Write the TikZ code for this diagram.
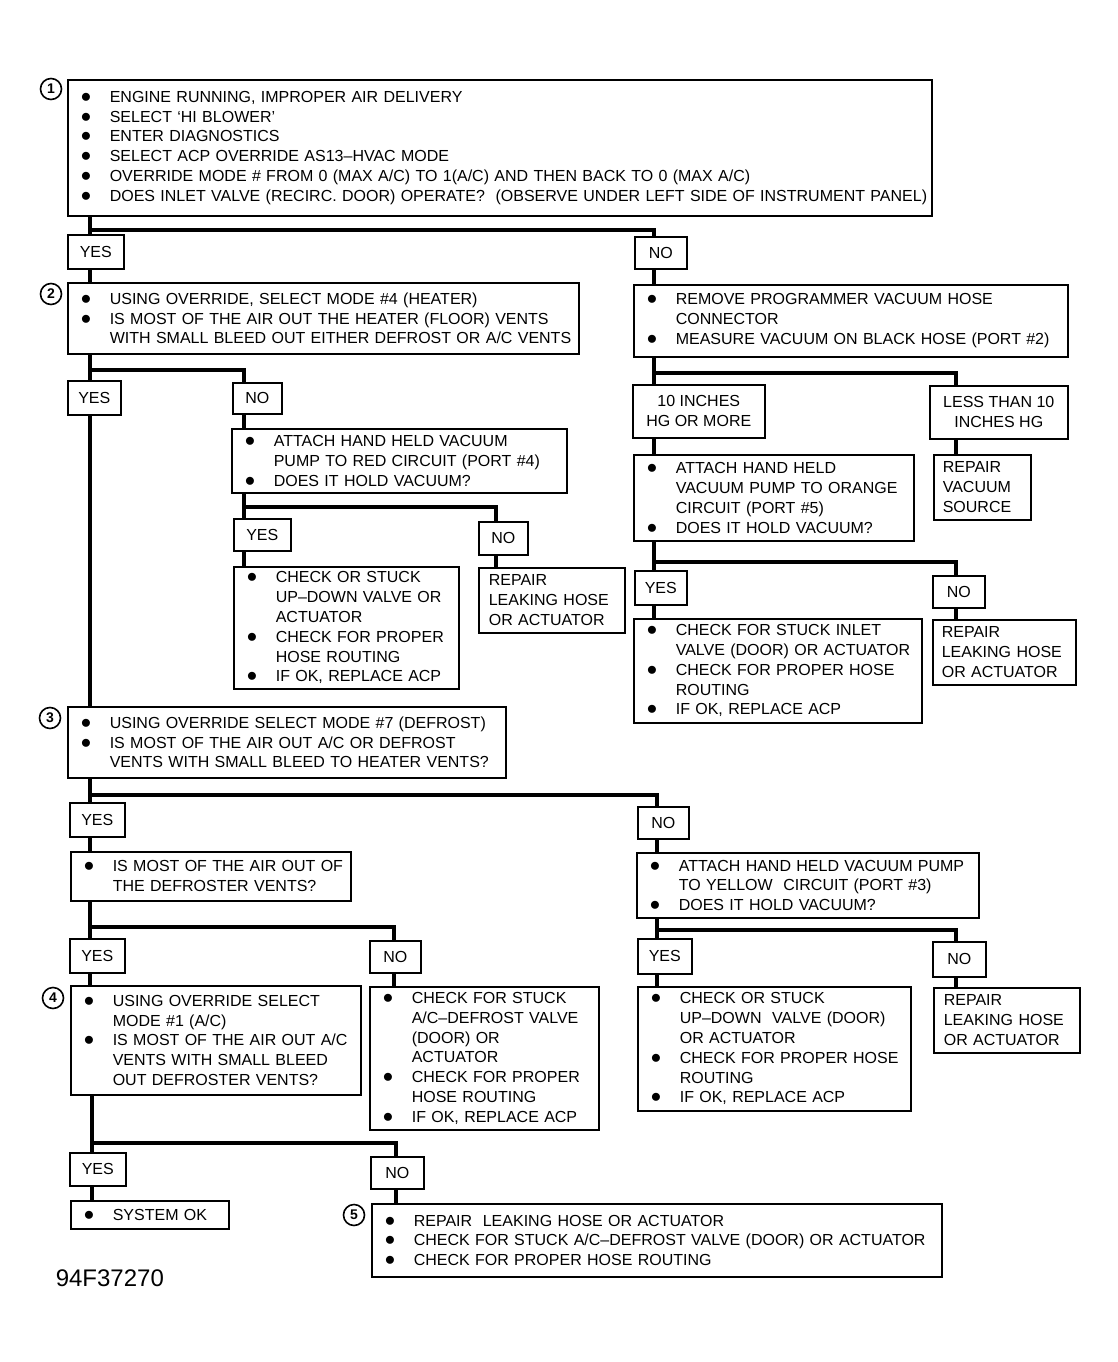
\documentclass[tikz,border=0pt]{standalone}
\usepackage{fontspec}
\setmainfont{Liberation Sans}
\newcommand{\bitem}[1]{\makebox[29pt][l]{\fontsize{21}{19.8}\selectfont$\bullet$}\mbox{#1}}
\newcommand{\bcont}[1]{\hspace*{29pt}\mbox{#1}}
\newcommand{\bline}[1]{\mbox{#1}}

\begin{document}
\begin{tikzpicture}[x=1pt,y=-1pt,line width=1.6pt]
    \tikzstyle{panel}=[draw,anchor=north west,inner xsep=13pt,inner ysep=0pt,align=left,font=\fontsize{16}{19.8}\selectfont]
    \tikzstyle{answer}=[draw,anchor=north west,inner sep=0pt,font=\fontsize{16}{19.8}\selectfont]
    \tikzstyle{stepno}=[circle,draw,line width=1.6pt,inner sep=0pt,minimum size=21pt,font=\fontsize{14}{14}\selectfont\bfseries]
    \tikzstyle{link}=[line width=3.6pt]

    \useasboundingbox (0,0) rectangle (1117,1362);

    % step 1
    \node[panel,text width=838pt,minimum height=136pt] (S1) at (67,79) {
      \bitem{ENGINE RUNNING, IMPROPER AIR DELIVERY}\\
      \bitem{SELECT `HI BLOWER'}\\
      \bitem{ENTER DIAGNOSTICS}\\
      \bitem{SELECT ACP OVERRIDE AS13--HVAC MODE}\\
      \bitem{OVERRIDE MODE \# FROM 0 (MAX A/C) TO 1(A/C) AND THEN BACK TO 0 (MAX A/C)}\\
      \bitem{DOES INLET VALVE (RECIRC. DOOR) OPERATE?\ \ (OBSERVE UNDER LEFT SIDE OF INSTRUMENT PANEL)}};
    \node[stepno] (C1) at (51,89) {1};
    \node[answer,minimum width=56pt,minimum height=34pt] (Y1) at (67,234) {YES};
    \node[answer,minimum width=52pt,minimum height=32pt] (N1) at (634,236) {NO};

    % step 2
    \node[panel,text width=485pt,minimum height=71pt] (S2) at (67,282) {
      \bitem{USING OVERRIDE, SELECT MODE \#4 (HEATER)}\\
      \bitem{IS MOST OF THE AIR OUT THE HEATER (FLOOR) VENTS}\\
      \bcont{WITH SMALL BLEED OUT EITHER DEFROST OR A/C VENTS}};
    \node[stepno] (C2) at (51,294) {2};
    \node[answer,minimum width=53pt,minimum height=34pt] (Y2) at (67,380) {YES};
    \node[answer,minimum width=49pt,minimum height=31pt] (N2) at (232,382) {NO};

    % red circuit
    \node[panel,text width=309pt,minimum height=64pt] (R1) at (231,428) {
      \bitem{ATTACH HAND HELD VACUUM}\\
      \bcont{PUMP TO RED CIRCUIT (PORT \#4)}\\
      \bitem{DOES IT HOLD VACUUM?}};
    \node[answer,minimum width=57pt,minimum height=32pt] (Y3) at (233,518) {YES};
    \node[answer,minimum width=49pt,minimum height=33pt] (N3) at (478,521) {NO};
    \node[panel,text width=199pt,minimum height=122pt] (R2) at (233,566) {
      \bitem{CHECK OR STUCK}\\
      \bcont{UP--DOWN VALVE OR}\\
      \bcont{ACTUATOR}\\
      \bitem{CHECK FOR PROPER}\\
      \bcont{HOSE ROUTING}\\
      \bitem{IF OK, REPLACE ACP}};
    \node[panel,inner xsep=10pt,text width=126pt,minimum height=65pt] (R3) at (478,567) {
      \bline{REPAIR}\\\bline{LEAKING HOSE}\\\bline{OR ACTUATOR}};

    % programmer vacuum
    \node[panel,text width=408pt,minimum height=72pt] (V1) at (633,284) {
      \bitem{REMOVE PROGRAMMER VACUUM HOSE}\\
      \bcont{CONNECTOR}\\
      \bitem{MEASURE VACUUM ON BLACK HOSE (PORT \#2)}};
    \node[answer,minimum width=132pt,minimum height=53pt,align=center] (H1) at (632,384) {10 INCHES\\HG OR MORE};
    \node[answer,minimum width=138pt,minimum height=53pt,align=center] (H2) at (929,385) {LESS THAN 10\\INCHES HG};
    \node[panel,text width=254pt,minimum height=86pt] (V2) at (633,454) {
      \bitem{ATTACH HAND HELD}\\
      \bcont{VACUUM PUMP TO ORANGE}\\
      \bcont{CIRCUIT (PORT \#5)}\\
      \bitem{DOES IT HOLD VACUUM?}};
    \node[panel,inner xsep=9pt,text width=79pt,minimum height=65pt] (VS) at (933,454) {
      \bline{REPAIR}\\\bline{VACUUM}\\\bline{SOURCE}};
    \node[answer,minimum width=52pt,minimum height=34pt] (Y4) at (634,570) {YES};
    \node[answer,minimum width=52pt,minimum height=32pt] (N4) at (932,575) {NO};
    \node[panel,text width=262pt,minimum height=104pt] (V3) at (633,618) {
      \bitem{CHECK FOR STUCK INLET}\\
      \bcont{VALVE (DOOR) OR ACTUATOR}\\
      \bitem{CHECK FOR PROPER HOSE}\\
      \bcont{ROUTING}\\
      \bitem{IF OK, REPLACE ACP}};
    \node[panel,inner xsep=9pt,text width=125pt,minimum height=65pt] (V4) at (932,619) {
      \bline{REPAIR}\\\bline{LEAKING HOSE}\\\bline{OR ACTUATOR}};

    % step 3
    \node[panel,text width=412pt,minimum height=71pt] (S3) at (67,706) {
      \bitem{USING OVERRIDE SELECT MODE \#7 (DEFROST)}\\
      \bitem{IS MOST OF THE AIR OUT A/C OR DEFROST}\\
      \bcont{VENTS WITH SMALL BLEED TO HEATER VENTS?}};
    \node[stepno] (C3) at (50,718) {3};
    \node[answer,minimum width=55pt,minimum height=34pt] (Y5) at (69,802) {YES};
    \node[answer,minimum width=51pt,minimum height=32pt] (N5) at (637,806) {NO};
    \node[panel,text width=254pt,minimum height=49pt] (D1) at (70,851) {
      \bitem{IS MOST OF THE AIR OUT OF}\\
      \bcont{THE DEFROSTER VENTS?}};
    \node[answer,minimum width=55pt,minimum height=34pt] (Y6) at (69,938) {YES};
    \node[answer,minimum width=51pt,minimum height=32pt] (N6) at (369,940) {NO};
    \node[panel,text width=203pt,minimum height=143pt] (D2) at (369,986) {
      \bitem{CHECK FOR STUCK}\\
      \bcont{A/C--DEFROST VALVE}\\
      \bcont{(DOOR) OR}\\
      \bcont{ACTUATOR}\\
      \bitem{CHECK FOR PROPER}\\
      \bcont{HOSE ROUTING}\\
      \bitem{IF OK, REPLACE ACP}};

    % yellow circuit
    \node[panel,text width=316pt,minimum height=65pt] (W1) at (636,852) {
      \bitem{ATTACH HAND HELD VACUUM PUMP}\\
      \bcont{TO YELLOW\ \ CIRCUIT (PORT \#3)}\\
      \bitem{DOES IT HOLD VACUUM?}};
    \node[answer,minimum width=54pt,minimum height=35pt] (Y7) at (637,938) {YES};
    \node[answer,minimum width=53pt,minimum height=35pt] (N7) at (932,941) {NO};
    \node[panel,text width=247pt,minimum height=124pt] (K1) at (637,986) {
      \bitem{CHECK OR STUCK}\\
      \bcont{UP--DOWN\ \ VALVE (DOOR)}\\
      \bcont{OR ACTUATOR}\\
      \bitem{CHECK FOR PROPER HOSE}\\
      \bcont{ROUTING}\\
      \bitem{IF OK, REPLACE ACP}};
    \node[panel,inner xsep=10pt,text width=126pt,minimum height=65pt] (K2) at (933,987) {
      \bline{REPAIR}\\\bline{LEAKING HOSE}\\\bline{OR ACTUATOR}};

    % step 4
    \node[panel,text width=264pt,minimum height=109pt] (S4) at (70,985) {
      \bitem{USING OVERRIDE SELECT}\\
      \bcont{MODE \#1 (A/C)}\\
      \bitem{IS MOST OF THE AIR OUT A/C}\\
      \bcont{VENTS WITH SMALL BLEED}\\
      \bcont{OUT DEFROSTER VENTS?}};
    \node[stepno] (C4) at (53,998) {4};
    \node[answer,minimum width=56pt,minimum height=33pt] (Y8) at (69,1152) {YES};
    \node[answer,minimum width=53pt,minimum height=32pt] (N8) at (370,1156) {NO};
    \node[panel,text width=132pt,minimum height=28pt] (OK) at (70,1200) {\bitem{SYSTEM OK}};

    % step 5
    \node[panel,text width=544pt,minimum height=73pt] (S5) at (371,1203) {
      \bitem{REPAIR\ \ LEAKING HOSE OR ACTUATOR}\\
      \bitem{CHECK FOR STUCK A/C--DEFROST VALVE (DOOR) OR ACTUATOR}\\
      \bitem{CHECK FOR PROPER HOSE ROUTING}};
    \node[stepno] (C5) at (354,1215) {5};

    \node[anchor=west,inner sep=0pt,font=\fontsize{24}{24}\selectfont] (fig) at (55,1278) {94F37270};

    % branch points
    \coordinate (a1) at (90,230);   \coordinate (a1r) at (654,230);
    \coordinate (a2) at (90,370);   \coordinate (a2r) at (244,370);
    \coordinate (a3) at (244,507);  \coordinate (a3r) at (496,507);
    \coordinate (a4) at (654,373);  \coordinate (a4r) at (956,373);
    \coordinate (a5) at (654,562);  \coordinate (a5r) at (956,562);
    \coordinate (a6) at (90,795);   \coordinate (a6r) at (657,795);
    \coordinate (a7) at (90,927);   \coordinate (a7r) at (394,927);
    \coordinate (a8) at (657,930);  \coordinate (a8r) at (956,930);
    \coordinate (a9) at (92,1143);  \coordinate (a9r) at (396,1143);

    % step 1 branches
    \draw[link] (S1.south -| a1) -- (a1 |- Y1.north);
    \draw[link] (a1) -- (a1r) -- (a1r |- N1.north);
    \draw[link] (a1 |- Y1.south) -- (a1 |- S2.north);
    \draw[link] (a1r |- N1.south) -- (a1r |- V1.north);

    % step 2 branches
    \draw[link] (S2.south -| a2) -- (a2 |- Y2.north);
    \draw[link] (a2) -- (a2r) -- (a2r |- N2.north);
    \draw[link] (a2 |- Y2.south) -- (a2 |- S3.north);
    \draw[link] (a2r |- N2.south) -- (a2r |- R1.north);

    % red circuit branches
    \draw[link] (R1.south -| a3) -- (a3 |- Y3.north);
    \draw[link] (a3) -- (a3r) -- (a3r |- N3.north);
    \draw[link] (a3 |- Y3.south) -- (a3 |- R2.north);
    \draw[link] (a3r |- N3.south) -- (a3r |- R3.north);

    % vacuum reading branches
    \draw[link] (V1.south -| a4) -- (a4 |- H1.north);
    \draw[link] (a4) -- (a4r) -- (a4r |- H2.north);
    \draw[link] (a4 |- H1.south) -- (a4 |- V2.north);
    \draw[link] (a4r |- H2.south) -- (a4r |- VS.north);

    % orange circuit branches
    \draw[link] (V2.south -| a5) -- (a5 |- Y4.north);
    \draw[link] (a5) -- (a5r) -- (a5r |- N4.north);
    \draw[link] (a5 |- Y4.south) -- (a5 |- V3.north);
    \draw[link] (a5r |- N4.south) -- (a5r |- V4.north);

    % step 3 branches
    \draw[link] (S3.south -| a6) -- (a6 |- Y5.north);
    \draw[link] (a6) -- (a6r) -- (a6r |- N5.north);
    \draw[link] (a6 |- Y5.south) -- (a6 |- D1.north);
    \draw[link] (a6r |- N5.south) -- (a6r |- W1.north);

    % defroster branches
    \draw[link] (D1.south -| a7) -- (a7 |- Y6.north);
    \draw[link] (a7) -- (a7r) -- (a7r |- N6.north);
    \draw[link] (a7 |- Y6.south) -- (a7 |- S4.north);
    \draw[link] (a7r |- N6.south) -- (a7r |- D2.north);

    % yellow circuit branches
    \draw[link] (W1.south -| a8) -- (a8 |- Y7.north);
    \draw[link] (a8) -- (a8r) -- (a8r |- N7.north);
    \draw[link] (a8 |- Y7.south) -- (a8 |- K1.north);
    \draw[link] (a8r |- N7.south) -- (a8r |- K2.north);

    % step 4 branches
    \draw[link] (S4.south -| a9) -- (a9 |- Y8.north);
    \draw[link] (a9) -- (a9r) -- (a9r |- N8.north);
    \draw[link] (a9 |- Y8.south) -- (a9 |- OK.north);
    \draw[link] (a9r |- N8.south) -- (a9r |- S5.north);
  \end{tikzpicture}
\end{document}
